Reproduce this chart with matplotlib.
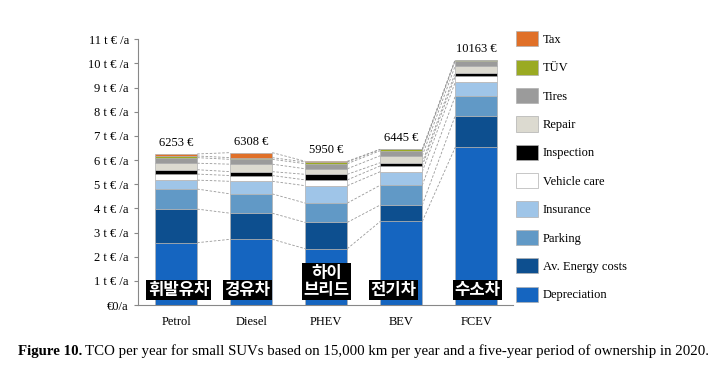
import numpy as np
import matplotlib.pyplot as plt
from matplotlib.patches import Patch

# cost components in thousand euro per year, bottom to top
cars = ['Petrol', 'Diesel', 'PHEV', 'BEV', 'FCEV']
ko_labels = ['휘발유차', '경유차', '하이\n브리드', '전기차', '수소차']
totals = [6253, 6308, 5950, 6445, 10163]

components = ['Depreciation', 'Av. Energy costs', 'Parking', 'Insurance', 'Vehicle care',
              'Inspection', 'Repair', 'Tires', 'TÜV', 'Tax']
colors = ['#1565c0', '#0d4f8f', '#6199c6', '#9fc5e8', '#ffffff',
          '#000000', '#dcdad0', '#9b9b9b', '#9aaa22', '#e07028']

depreciation = [2.58, 2.72, 2.33, 3.46, 6.53]
energy = [1.39, 1.08, 1.09, 0.68, 1.31]
parking = [0.83, 0.80, 0.80, 0.82, 0.81]
insurance = [0.37, 0.52, 0.72, 0.56, 0.58]
care = [0.25, 0.24, 0.24, 0.24, 0.25]
inspection = [0.18, 0.16, 0.23, 0.13, 0.14]
repair = [0.27, 0.31, 0.23, 0.29, 0.29]
tires = [0.23, 0.20, 0.21, 0.21, 0.21]
tuev = [0.07, 0.07, 0.07, 0.055, 0.043]
tax = [0.083, 0.208, 0.03, 0.0, 0.0]

data = np.array([depreciation, energy, parking, insurance, care,
                 inspection, repair, tires, tuev, tax])

plt.rcParams['font.family'] = ['Liberation Serif', 'DejaVu Serif']

fig = plt.figure(figsize=(7.24, 3.76), dpi=100)
ax = fig.add_axes([0.1906, 0.1888, 0.518, 0.7067])

x = np.arange(len(cars))
w = 0.56
bottom = np.zeros(len(cars))
for vals, c in zip(data, colors):
    ax.bar(x, vals, w, bottom=bottom, color=c, edgecolor='#b0b0b0', linewidth=0.5, zorder=2)
    bottom += vals
    # dashed connectors between neighbouring bars
    for i in range(len(cars) - 1):
        ax.plot([x[i] + w / 2, x[i + 1] - w / 2], [bottom[i], bottom[i + 1]],
                ls=(0, (3, 2)), color='#999999', lw=0.6, zorder=1)

for i, t in enumerate(totals):
    ax.text(x[i], t / 1000 + 0.2, f'{t} €', ha='center', va='bottom', fontsize=9)

ko_dx = [0.03, -0.05, 0.0, -0.1, 0.02]
for i, lab in enumerate(ko_labels):
    ax.text(x[i] + ko_dx[i], 0.25, lab, ha='center', va='bottom', color='white',
            fontsize=12, fontweight='bold', family=['Noto Sans CJK KR'],
            linespacing=0.9,
            bbox=dict(facecolor='black', edgecolor='none', pad=1.0), zorder=5)

ax.set_xlim(-0.51, 4.49)
ax.set_ylim(0, 11)
ax.set_yticks(range(12))
ax.set_yticklabels(['€0/a'] + [f'{k} t € /a' for k in range(1, 12)], fontsize=9)
ax.set_xticks(x)
ax.set_xticklabels(cars, fontsize=9)
ax.tick_params(axis='x', length=0, pad=8)
ax.tick_params(axis='y', length=3, color='#888888', width=0.8)
for s in ['top', 'right']:
    ax.spines[s].set_visible(False)
for s in ['left', 'bottom']:
    ax.spines[s].set_color('#888888')
    ax.spines[s].set_linewidth(0.8)

handles = [Patch(facecolor=c, edgecolor='#b0b0b0', linewidth=0.5, label=n)
           for n, c in zip(components, colors)][::-1]
fig.legend(handles=handles, loc='upper left', bbox_to_anchor=(0.697, 0.947),
           frameon=False, fontsize=9, handlelength=1.76, handleheight=1.5,
           labelspacing=1.05, handletextpad=0.4)

fig.text(0.025, 0.066, 'Figure 10.', fontsize=10.7, fontweight='bold', va='center')
fig.text(0.118, 0.066, 'TCO per year for small SUVs based on 15,000 km per year and a five-year period of ownership in 2020.',
         fontsize=10.7, va='center')

fig.savefig('out.png', dpi=100)
